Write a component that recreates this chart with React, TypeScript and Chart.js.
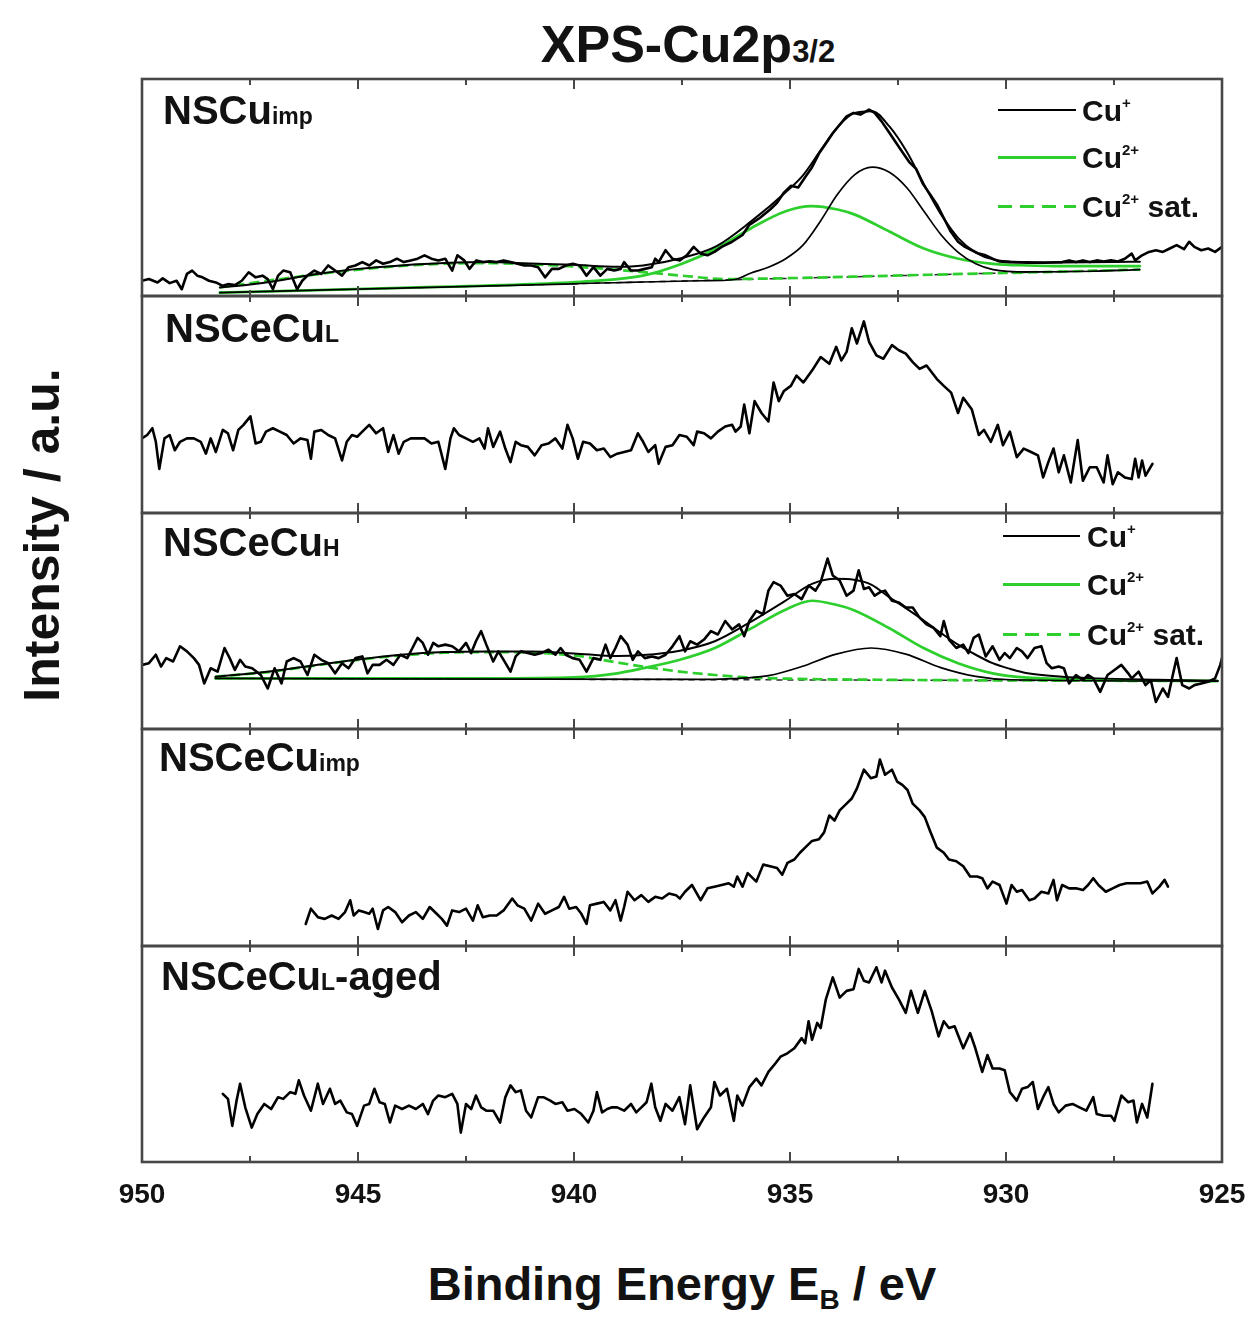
import React, { useEffect, useRef } from 'react';
import { Chart, registerables } from 'chart.js';

Chart.register(...registerables);

type Pt = [number, number];

// ---------- axis values ----------
const xMin = 925;
const xMax = 950;
const xStep = 5;
const tickMarks = [947.5, 945, 942.5, 940, 937.5, 935, 932.5, 930, 927.5];
const yMax = 640; // arbitrary intensity units per panel

// ---------- NSCu imp ----------
const nsCuImpSpectrum: Pt[] = [
  [950.0, 45], [949.84, 50], [949.64, 40], [949.52, 52], [949.36, 38], [949.2, 45], [949.08, 20], [948.96, 65], [948.84, 75], [948.72, 60],
  [948.6, 55], [948.45, 45], [948.29, 40], [948.13, 30], [948.01, 35], [947.85, 32], [947.69, 45], [947.53, 70], [947.37, 55], [947.21, 60],
  [947.09, 50], [946.97, 20], [946.85, 60], [946.73, 75], [946.57, 70], [946.41, 20], [946.29, 45], [946.17, 60], [946.01, 75], [945.85, 65],
  [945.69, 90], [945.53, 75], [945.37, 60], [945.22, 85], [945.06, 90], [944.9, 100], [944.74, 90], [944.58, 105], [944.42, 95], [944.26, 100],
  [944.1, 110], [943.94, 100], [943.78, 105], [943.62, 110], [943.46, 120], [943.3, 110], [943.14, 105], [942.98, 110], [942.82, 75], [942.7, 120],
  [942.54, 105], [942.42, 80], [942.26, 105], [942.11, 100], [941.95, 102], [941.79, 100], [941.63, 105], [941.47, 100], [941.31, 95], [941.15, 90],
  [940.99, 90], [940.83, 85], [940.67, 55], [940.51, 80], [940.35, 80], [940.19, 90], [940.03, 95], [939.87, 90], [939.71, 60], [939.55, 85],
  [939.39, 60], [939.23, 80], [939.07, 75], [938.92, 80], [938.84, 100], [938.68, 75], [938.52, 75], [938.36, 80], [938.2, 85], [938.12, 110],
  [938.04, 100], [937.88, 135], [937.72, 110], [937.55, 105], [937.39, 120], [937.23, 145], [937.07, 125], [936.91, 120], [936.75, 130], [936.58, 145],
  [936.34, 160], [936.1, 180], [935.94, 210], [935.7, 230], [935.46, 255], [935.3, 275], [935.14, 305], [934.98, 325], [934.81, 320], [934.65, 350],
  [934.49, 380], [934.33, 420], [934.17, 450], [934.01, 480], [933.85, 505], [933.69, 530], [933.53, 540], [933.37, 535], [933.17, 550], [933.04, 540],
  [932.88, 515], [932.72, 485], [932.56, 455], [932.4, 425], [932.24, 395], [932.08, 375], [931.92, 330], [931.76, 300], [931.6, 270], [931.44, 230],
  [931.28, 190], [931.11, 160], [930.95, 145], [930.79, 135], [930.63, 125], [930.47, 120], [930.31, 110], [930.15, 102], [929.91, 100], [929.5, 98],
  [929.1, 98], [928.7, 100], [928.54, 105], [928.38, 100], [928.22, 105], [928.06, 100], [927.9, 105], [927.74, 102], [927.57, 105], [927.41, 102],
  [927.25, 110], [927.09, 125], [927.01, 105], [926.85, 120], [926.69, 130], [926.53, 135], [926.37, 130], [926.21, 140], [926.05, 150], [925.88, 138],
  [925.76, 160], [925.64, 145], [925.48, 135], [925.32, 140], [925.16, 130], [925.0, 145],
];
const nsCuImpEnvelope: Pt[] = [
  [948.2, 25], [947.5, 34], [947, 42], [946, 64], [945, 80], [944, 90], [943, 97], [942, 100], [941, 96], [940, 92], [939, 86], [938.4, 90],
  [937.5, 112], [936.7, 147], [935.9, 220], [935.1, 306], [934.7, 356], [934.3, 428], [933.9, 498], [933.5, 540], [933.1, 545], [932.7, 500],
  [932.3, 426], [931.9, 330], [931.5, 240], [931.1, 170], [930.7, 128], [930.3, 108], [929.5, 100], [928.7, 99], [927.5, 100], [926.9, 101],
];
const nsCuImpCuI: Pt[] = [
  [948.2, 10], [940, 36], [937, 45], [936.3, 48], [935.9, 68], [935.5, 85], [935.1, 110], [934.7, 150], [934.3, 220], [933.9, 300], [933.5, 358],
  [933.1, 380], [932.7, 365], [932.3, 320], [931.9, 250], [931.5, 180], [931.1, 128], [930.7, 95], [930.3, 78], [929.5, 71], [928, 73], [926.9, 78],
];
const nsCuImpCuII: Pt[] = [
  [948.2, 10], [944, 24], [941, 35], [939.6, 44], [938.4, 60], [937.5, 95], [936.7, 140], [935.9, 200], [935.1, 250], [934.5, 265], [933.9, 255],
  [933.5, 240], [932.7, 190], [931.9, 140], [931.1, 110], [930.3, 95], [929.5, 90], [928.7, 88], [926.9, 88],
];
const nsCuImpSat: Pt[] = [
  [948.2, 25], [946.8, 50], [945.2, 75], [943.6, 92], [942, 97], [940.4, 90], [938.8, 75], [937.5, 60], [936.5, 50], [935.5, 51.5], [934, 55.5],
  [932, 62], [930, 68], [926.9, 78],
];
const nsCuImpBackground: Pt[] = [[948.2, 10], [926.9, 78]];

// ---------- NSCeCu L ----------
const nsCeCuLSpectrum: Pt[] = [
  [950.0, 220], [949.88, 230], [949.76, 250], [949.68, 210], [949.6, 130], [949.48, 220], [949.36, 230], [949.24, 185], [949.12, 210], [948.96, 220],
  [948.8, 220], [948.64, 210], [948.52, 175], [948.41, 220], [948.29, 180], [948.13, 245], [948.01, 235], [947.89, 185], [947.77, 245], [947.65, 260],
  [947.49, 285], [947.37, 205], [947.25, 210], [947.13, 240], [946.97, 250], [946.81, 240], [946.65, 230], [946.49, 205], [946.33, 220], [946.17, 215],
  [946.09, 160], [946.01, 240], [945.85, 245], [945.69, 230], [945.53, 220], [945.37, 155], [945.26, 210], [945.14, 230], [945.02, 225], [944.9, 240],
  [944.74, 260], [944.58, 235], [944.42, 250], [944.3, 180], [944.18, 230], [944.06, 175], [943.94, 210], [943.78, 220], [943.62, 220], [943.46, 220],
  [943.3, 205], [943.14, 210], [942.98, 130], [942.86, 220], [942.78, 250], [942.66, 230], [942.5, 220], [942.34, 210], [942.19, 220], [942.07, 190],
  [941.99, 250], [941.87, 195], [941.71, 240], [941.59, 190], [941.47, 150], [941.35, 210], [941.23, 200], [941.07, 195], [940.91, 170], [940.75, 200],
  [940.59, 205], [940.43, 220], [940.27, 190], [940.15, 260], [940.03, 220], [939.91, 160], [939.79, 210], [939.63, 205], [939.47, 185], [939.31, 190],
  [939.16, 165], [939.0, 175], [938.84, 180], [938.68, 185], [938.52, 235], [938.4, 210], [938.28, 180], [938.12, 200], [938.04, 145], [937.88, 195],
  [937.72, 200], [937.56, 230], [937.39, 225], [937.23, 200], [937.15, 240], [936.99, 235], [936.83, 220], [936.67, 240], [936.5, 255], [936.34, 260],
  [936.26, 240], [936.14, 255], [936.06, 320], [935.94, 235], [935.82, 330], [935.66, 295], [935.5, 270], [935.38, 385], [935.26, 330], [935.14, 360],
  [934.98, 375], [934.85, 405], [934.69, 385], [934.49, 420], [934.29, 460], [934.09, 440], [933.93, 490], [933.81, 450], [933.69, 475], [933.57, 545],
  [933.45, 500], [933.29, 565], [933.17, 505], [933.0, 465], [932.84, 455], [932.64, 495], [932.48, 480], [932.32, 470], [932.16, 445], [932.0, 425],
  [931.84, 435], [931.6, 395], [931.44, 375], [931.27, 355], [931.11, 295], [930.99, 340], [930.79, 305], [930.63, 230], [930.51, 245], [930.35, 210],
  [930.19, 260], [930.07, 200], [929.91, 240], [929.75, 165], [929.59, 190], [929.42, 180], [929.26, 170], [929.14, 105], [929.02, 150], [928.9, 190],
  [928.78, 120], [928.66, 170], [928.5, 90], [928.34, 215], [928.22, 95], [928.06, 135], [927.9, 135], [927.74, 90], [927.65, 170], [927.53, 85],
  [927.41, 120], [927.25, 105], [927.09, 100], [927.01, 160], [926.93, 105], [926.85, 155], [926.77, 110], [926.61, 145],
];

// ---------- NSCeCu H ----------
const nsCeCuHSpectrum: Pt[] = [
  [950.0, 190], [949.84, 195], [949.68, 220], [949.56, 185], [949.44, 210], [949.28, 200], [949.12, 245], [948.96, 230], [948.8, 210], [948.68, 190],
  [948.56, 135], [948.41, 180], [948.25, 170], [948.09, 240], [947.97, 210], [947.85, 175], [947.73, 205], [947.61, 185], [947.45, 180], [947.25, 160],
  [947.09, 120], [946.93, 180], [946.77, 135], [946.65, 200], [946.49, 210], [946.33, 200], [946.17, 160], [946.01, 220], [945.85, 205], [945.69, 195],
  [945.53, 165], [945.37, 195], [945.22, 180], [945.06, 210], [944.9, 215], [944.78, 165], [944.66, 190], [944.5, 190], [944.34, 205], [944.18, 190],
  [944.02, 220], [943.86, 210], [943.74, 240], [943.62, 270], [943.5, 255], [943.38, 220], [943.26, 255], [943.14, 245], [942.98, 250], [942.82, 245],
  [942.66, 230], [942.5, 255], [942.38, 225], [942.27, 260], [942.15, 290], [942.03, 250], [941.87, 200], [941.75, 230], [941.63, 205], [941.47, 170],
  [941.35, 215], [941.23, 230], [941.07, 225], [940.91, 220], [940.75, 225], [940.59, 235], [940.43, 220], [940.31, 240], [940.19, 220], [940.03, 210],
  [939.87, 205], [939.71, 170], [939.55, 210], [939.39, 205], [939.27, 250], [939.16, 210], [939.04, 240], [938.92, 275], [938.76, 250], [938.64, 205],
  [938.52, 230], [938.36, 210], [938.2, 215], [938.04, 210], [937.88, 220], [937.72, 245], [937.56, 275], [937.43, 230], [937.31, 260], [937.15, 250],
  [936.99, 265], [936.83, 290], [936.67, 280], [936.5, 320], [936.34, 295], [936.18, 310], [936.06, 275], [935.94, 320], [935.78, 350], [935.62, 340],
  [935.5, 410], [935.38, 435], [935.22, 425], [935.06, 395], [934.9, 400], [934.73, 385], [934.57, 425], [934.41, 410], [934.29, 435], [934.13, 505],
  [934.01, 455], [933.85, 440], [933.69, 395], [933.53, 410], [933.41, 470], [933.29, 415], [933.17, 420], [933.04, 395], [932.92, 405], [932.8, 410],
  [932.64, 380], [932.48, 375], [932.32, 360], [932.16, 360], [932.0, 330], [931.84, 310], [931.68, 300], [931.52, 275], [931.44, 320], [931.32, 265],
  [931.15, 240], [930.99, 250], [930.87, 225], [930.75, 270], [930.63, 280], [930.47, 215], [930.31, 245], [930.15, 205], [930.03, 225], [929.91, 210],
  [929.75, 240], [929.63, 230], [929.5, 210], [929.34, 240], [929.18, 245], [929.06, 195], [928.94, 180], [928.78, 185], [928.66, 180], [928.54, 135],
  [928.38, 160], [928.22, 145], [928.1, 160], [927.98, 150], [927.82, 110], [927.65, 160], [927.49, 175], [927.33, 190], [927.17, 165], [927.09, 150],
  [926.93, 170], [926.77, 130], [926.65, 145], [926.53, 80], [926.37, 120], [926.25, 95], [926.13, 165], [926.05, 210], [925.92, 130], [925.76, 120],
  [925.64, 130], [925.48, 135], [925.32, 140], [925.16, 150], [925.04, 190], [925.0, 210],
];
const nsCeCuHEnvelope: Pt[] = [
  [948.3, 155], [947, 171], [946, 189], [945, 206], [944, 220], [943, 228], [942, 230], [941, 230], [940, 224], [939, 216], [938.4, 219],
  [937.55, 232], [936.74, 260], [935.94, 315], [935.13, 378], [934.49, 430], [933.93, 445], [933.52, 442], [933.12, 428], [932.72, 392],
  [932.32, 358], [931.91, 322], [931.51, 285], [931.11, 250], [930.7, 220], [930.31, 195], [929.9, 178], [929.5, 165], [928.7, 155], [927.9, 150],
  [926.5, 146], [925.1, 143],
];
const nsCeCuHCuI: Pt[] = [
  [948.3, 150], [937, 147], [936.3, 149], [935.5, 158], [934.73, 185], [933.93, 222], [933.12, 240], [932.32, 222], [931.51, 182], [930.7, 156],
  [929.9, 146], [925.1, 142],
];
const nsCeCuHCuII: Pt[] = [
  [948.3, 150], [942, 150], [940, 153], [939, 165], [938.4, 180], [937.55, 205], [936.74, 240], [935.94, 295], [935.13, 352], [934.49, 380],
  [933.93, 368], [933.52, 352], [932.72, 300], [931.91, 240], [931.11, 195], [930.31, 165], [929.5, 152], [928, 146], [925.1, 142],
];
const nsCeCuHSat: Pt[] = [
  [948.3, 155], [947, 170], [946, 188], [945, 205], [944, 218], [943, 226], [942, 228], [941, 226], [940, 218], [939, 197], [938.4, 185],
  [937.55, 170], [936.74, 160], [936, 153], [935, 149], [933, 146], [930, 144], [925.1, 142],
];
const nsCeCuHBackground: Pt[] = [[948.3, 150], [925.1, 142]];

// ---------- NSCeCu imp ----------
const nsCeCuImpSpectrum: Pt[] = [
  [946.21, 65], [946.09, 110], [945.93, 85], [945.77, 80], [945.61, 90], [945.45, 80], [945.3, 100], [945.18, 135], [945.1, 90], [944.98, 105],
  [944.86, 100], [944.74, 95], [944.66, 110], [944.54, 50], [944.42, 105], [944.3, 115], [944.14, 100], [943.98, 70], [943.82, 90], [943.66, 100],
  [943.5, 80], [943.34, 115], [943.18, 95], [943.06, 80], [942.94, 60], [942.82, 105], [942.66, 100], [942.5, 110], [942.34, 75], [942.23, 120],
  [942.11, 85], [941.95, 90], [941.79, 90], [941.63, 105], [941.43, 140], [941.31, 120], [941.15, 110], [940.99, 75], [940.83, 125], [940.67, 95],
  [940.51, 105], [940.35, 115], [940.23, 145], [940.11, 110], [939.95, 115], [939.83, 95], [939.71, 65], [939.63, 120], [939.47, 125], [939.31, 130],
  [939.16, 105], [939.04, 135], [938.92, 75], [938.84, 115], [938.76, 160], [938.6, 135], [938.44, 150], [938.28, 130], [938.12, 145], [937.96, 140],
  [937.8, 155], [937.64, 150], [937.55, 140], [937.43, 160], [937.27, 180], [937.07, 135], [936.91, 170], [936.75, 175], [936.58, 180], [936.42, 185],
  [936.3, 175], [936.22, 205], [936.1, 175], [935.98, 215], [935.78, 190], [935.62, 240], [935.46, 235], [935.3, 230], [935.18, 210], [935.06, 245],
  [934.9, 255], [934.77, 275], [934.65, 290], [934.49, 310], [934.33, 315], [934.21, 335], [934.09, 385], [933.97, 370], [933.85, 400], [933.69, 420],
  [933.57, 435], [933.45, 465], [933.29, 520], [933.13, 495], [933.0, 500], [932.92, 550], [932.8, 505], [932.64, 520], [932.52, 485], [932.4, 475],
  [932.28, 460], [932.16, 420], [932.0, 400], [931.88, 380], [931.76, 340], [931.6, 290], [931.44, 275], [931.32, 255], [931.15, 250], [930.99, 235],
  [930.83, 205], [930.67, 205], [930.55, 200], [930.43, 170], [930.31, 190], [930.15, 180], [929.99, 125], [929.87, 180], [929.75, 160], [929.63, 165],
  [929.46, 135], [929.34, 140], [929.18, 160], [929.02, 155], [928.9, 195], [928.82, 135], [928.7, 180], [928.54, 170], [928.38, 170], [928.22, 165],
  [928.1, 180], [927.98, 200], [927.86, 180], [927.69, 160], [927.53, 170], [927.37, 180], [927.21, 185], [927.05, 185], [926.89, 185], [926.73, 190],
  [926.61, 155], [926.45, 175], [926.33, 195], [926.25, 175],
];

// ---------- NSCeCu L-aged ----------
const nsCeCuLAgedSpectrum: Pt[] = [
  [948.13, 202], [948.01, 187], [947.91, 107], [947.81, 182], [947.73, 232], [947.61, 162], [947.46, 102], [947.33, 142], [947.17, 172], [947.01, 157],
  [946.85, 192], [946.73, 187], [946.57, 207], [946.45, 202], [946.37, 242], [946.25, 197], [946.09, 152], [945.93, 232], [945.81, 172], [945.65, 217],
  [945.53, 172], [945.41, 182], [945.26, 147], [945.14, 142], [945.02, 107], [944.86, 167], [944.74, 172], [944.62, 217], [944.5, 177], [944.38, 172],
  [944.26, 117], [944.14, 167], [943.98, 157], [943.82, 167], [943.66, 157], [943.5, 172], [943.38, 142], [943.26, 182], [943.14, 197], [942.98, 192],
  [942.82, 202], [942.7, 172], [942.62, 87], [942.5, 172], [942.38, 157], [942.27, 197], [942.15, 162], [942.03, 152], [941.87, 152], [941.71, 117],
  [941.59, 192], [941.47, 227], [941.35, 207], [941.23, 212], [941.11, 152], [940.99, 132], [940.83, 192], [940.71, 192], [940.55, 182], [940.43, 172],
  [940.27, 177], [940.15, 152], [939.99, 157], [939.83, 142], [939.67, 117], [939.55, 152], [939.47, 207], [939.35, 147], [939.23, 157], [939.12, 162],
  [939.0, 162], [938.84, 152], [938.68, 172], [938.56, 147], [938.44, 162], [938.32, 177], [938.21, 232], [938.12, 162], [938.0, 122], [937.88, 172],
  [937.72, 152], [937.56, 192], [937.43, 112], [937.31, 227], [937.15, 97], [936.99, 132], [936.83, 162], [936.75, 237], [936.62, 197], [936.46, 217],
  [936.3, 122], [936.22, 197], [936.1, 167], [935.94, 222], [935.78, 247], [935.66, 227], [935.5, 267], [935.34, 292], [935.22, 312], [935.06, 322],
  [934.9, 337], [934.73, 367], [934.65, 352], [934.57, 417], [934.49, 362], [934.37, 412], [934.29, 397], [934.17, 482], [934.01, 547], [933.85, 487],
  [933.69, 507], [933.53, 512], [933.41, 572], [933.29, 537], [933.17, 532], [933.0, 577], [932.88, 532], [932.8, 567], [932.64, 517], [932.48, 482],
  [932.32, 442], [932.2, 507], [932.04, 442], [931.88, 507], [931.72, 447], [931.56, 372], [931.44, 417], [931.32, 397], [931.19, 402], [930.99, 337],
  [930.83, 382], [930.71, 337], [930.55, 267], [930.43, 317], [930.31, 277], [930.15, 277], [930.03, 272], [929.91, 207], [929.75, 182], [929.63, 217],
  [929.5, 222], [929.38, 237], [929.26, 157], [929.14, 192], [929.02, 222], [928.9, 172], [928.78, 147], [928.62, 167], [928.46, 172], [928.3, 162],
  [928.14, 152], [927.98, 192], [927.9, 142], [927.74, 137], [927.57, 137], [927.49, 122], [927.33, 197], [927.17, 177], [927.05, 182], [926.97, 117],
  [926.85, 172], [926.73, 132], [926.61, 232],
];

// ---------- styling / layout ----------
const FONT = "'Liberation Sans', Arial, Helvetica, sans-serif";
const GREEN = '#2ccf2c';
const FRAME = '#474747';
const INK = '#121212';
const PLOT_LEFT = 142;
const PLOT_RIGHT = 1222;
const PAD_X = 40;
const PAD_Y = 4;
const AXIS_H = 60;
const panelEdges = [79, 296, 513, 729, 946, 1162];

type Style = { color: string; width: number; smooth: boolean; dash?: number[] };
const spectrumStyle: Style = { color: '#000', width: 2.6, smooth: false };
const envelopeStyle: Style = { color: '#000', width: 2, smooth: true };
const cuIStyle: Style = { color: '#000', width: 1.7, smooth: true };
const cuIIStyle: Style = { color: GREEN, width: 2.7, smooth: true };
const satStyle: Style = { color: GREEN, width: 2.7, smooth: true, dash: [10, 5] };
const bgStyle: Style = { color: '#2a2a2a', width: 1.5, smooth: false, dash: [6, 5] };

function ds(pts: Pt[], s: Style) {
  return {
    data: pts.map(([x, y]) => ({ x, y })),
    borderColor: s.color,
    borderWidth: s.width,
    borderDash: s.dash || [],
    borderJoinStyle: 'round',
    borderCapStyle: s.dash ? 'butt' : 'round',
    pointRadius: 0,
    pointHoverRadius: 0,
    fill: false,
    tension: s.smooth ? 0.4 : 0,
    cubicInterpolationMode: s.smooth ? 'monotone' : 'default',
  };
}

const panelSeries = [
  [ds(nsCuImpSpectrum, spectrumStyle), ds(nsCuImpEnvelope, envelopeStyle), ds(nsCuImpCuI, cuIStyle), ds(nsCuImpCuII, cuIIStyle), ds(nsCuImpSat, satStyle), ds(nsCuImpBackground, bgStyle)],
  [ds(nsCeCuLSpectrum, spectrumStyle)],
  [ds(nsCeCuHSpectrum, spectrumStyle), ds(nsCeCuHEnvelope, envelopeStyle), ds(nsCeCuHCuI, cuIStyle), ds(nsCeCuHCuII, cuIIStyle), ds(nsCeCuHSat, satStyle), ds(nsCeCuHBackground, bgStyle)],
  [ds(nsCeCuImpSpectrum, spectrumStyle)],
  [ds(nsCeCuLAgedSpectrum, spectrumStyle)],
];

const framePlugin = {
  id: 'panelFrame',
  afterDatasetsDraw(chart: any) {
    const { ctx, chartArea: a } = chart;
    const x = chart.scales.x;
    ctx.save();
    ctx.strokeStyle = FRAME;
    ctx.lineWidth = 2;
    ctx.beginPath();
    for (const v of tickMarks) {
      const px = x.getPixelForValue(v);
      const len = v % 5 === 0 ? 10 : 6;
      ctx.moveTo(px, a.bottom);
      ctx.lineTo(px, a.bottom - len);
      ctx.moveTo(px, a.top);
      ctx.lineTo(px, a.top + len);
    }
    ctx.stroke();
    ctx.lineWidth = 2.6;
    ctx.strokeRect(a.left, a.top, a.right - a.left, a.bottom - a.top);
    ctx.restore();
  },
};

function Panel({ index }: { index: number }) {
  const ref = useRef<HTMLCanvasElement>(null);
  const top = panelEdges[index];
  const h = panelEdges[index + 1] - top;
  const isBottom = index === panelEdges.length - 2;
  const width = PLOT_RIGHT - PLOT_LEFT + 2 * PAD_X;
  const height = h + PAD_Y + (isBottom ? AXIS_H : PAD_Y);

  useEffect(() => {
    const xScale: any = {
      type: 'linear',
      reverse: true,
      min: xMin,
      max: xMax,
      display: isBottom,
      grid: { display: false, drawTicks: false },
      border: { display: false },
      ticks: {
        stepSize: xStep,
        autoSkip: false,
        maxRotation: 0,
        padding: 16,
        color: INK,
        font: { family: FONT, size: 28, weight: 'bold' },
      },
    };
    if (isBottom) {
      xScale.afterFit = (s: any) => {
        s.height = AXIS_H;
      };
    }
    const chart = new Chart(ref.current as HTMLCanvasElement, {
      type: 'line',
      data: { datasets: panelSeries[index] as any },
      options: {
        responsive: false,
        maintainAspectRatio: false,
        animation: false,
        events: [],
        layout: { padding: { left: PAD_X, right: PAD_X, top: PAD_Y, bottom: isBottom ? 0 : PAD_Y } },
        plugins: { legend: { display: false }, tooltip: { enabled: false }, title: { display: false } },
        scales: {
          x: xScale,
          y: { display: false, min: 0, max: yMax },
        },
      } as any,
      plugins: [framePlugin],
    });
    return () => chart.destroy();
  }, [index]);

  return (
    <canvas
      ref={ref}
      width={width}
      height={height}
      style={{ position: 'absolute', left: PLOT_LEFT - PAD_X, top: top - PAD_Y, width, height }}
    />
  );
}

function Text({ left, baseline, size, center, children }: any) {
  return (
    <div
      style={{
        position: 'absolute',
        left,
        top: baseline - 0.8465 * size,
        fontSize: size,
        lineHeight: 1,
        whiteSpace: 'nowrap',
        transform: center ? 'translateX(-50%)' : undefined,
      }}
    >
      {children}
    </div>
  );
}

const panelLabels = [
  { left: 163, baseline: 124, main: 'NSCu', sub: 'imp', tail: '' },
  { left: 165, baseline: 342, main: 'NSCeCu', sub: 'L', tail: '' },
  { left: 163, baseline: 556, main: 'NSCeCu', sub: 'H', tail: '' },
  { left: 159, baseline: 771, main: 'NSCeCu', sub: 'imp', tail: '' },
  { left: 161, baseline: 990, main: 'NSCeCu', sub: 'L', tail: '-aged' },
];

const legendRows = [
  { sup: '+', after: '', kind: 'black' },
  { sup: '2+', after: '', kind: 'green' },
  { sup: '2+', after: ' sat.', kind: 'dash' },
];
const legends = [
  { lineLeft: 998, lineRight: 1076, textLeft: 1082, rows: [110, 157, 206] },
  { lineLeft: 1003, lineRight: 1080, textLeft: 1087, rows: [536, 584, 634] },
];

function Legend({ cfg }: { cfg: (typeof legends)[number] }) {
  return (
    <>
      {legendRows.map((r, i) => {
        const y = cfg.rows[i];
        const thick = r.kind === 'black' ? 2.5 : 3;
        const bg =
          r.kind === 'black'
            ? '#000'
            : r.kind === 'green'
            ? GREEN
            : `repeating-linear-gradient(to right, ${GREEN} 0px, ${GREEN} 14px, transparent 14px, transparent 22px)`;
        return (
          <React.Fragment key={i}>
            <div
              style={{
                position: 'absolute',
                left: cfg.lineLeft,
                top: y - thick / 2,
                width: cfg.lineRight - cfg.lineLeft,
                height: thick,
                background: bg,
              }}
            />
            <Text left={cfg.textLeft} baseline={y + 11} size={30}>
              Cu
              <span style={{ fontSize: 15, position: 'relative', top: -13 }}>{r.sup}</span>
              {r.after}
            </Text>
          </React.Fragment>
        );
      })}
    </>
  );
}

export default function App() {
  return (
    <div
      style={{
        position: 'absolute',
        left: 0,
        top: 0,
        width: 1253,
        height: 1319,
        background: '#fff',
        overflow: 'hidden',
        fontFamily: FONT,
        fontWeight: 'bold',
        color: INK,
      }}
    >
      {panelSeries.map((_, i) => (
        <Panel key={i} index={i} />
      ))}

      <Text left={688} baseline={62} size={52} center>
        XPS-Cu2p<span style={{ fontSize: 31 }}>3/2</span>
      </Text>

      <div
        style={{
          position: 'absolute',
          left: 42,
          top: 535,
          fontSize: 50,
          lineHeight: 1,
          whiteSpace: 'nowrap',
          transform: 'translate(-50%, -50%) rotate(-90deg)',
        }}
      >
        Intensity / a.u.
      </div>

      <Text left={682} baseline={1300} size={47} center>
        Binding Energy E<span style={{ fontSize: 28, position: 'relative', top: 9 }}>B</span> / eV
      </Text>

      {panelLabels.map((p, i) => (
        <Text key={i} left={p.left} baseline={p.baseline} size={40}>
          {p.main}
          <span style={{ fontSize: 23 }}>{p.sub}</span>
          {p.tail}
        </Text>
      ))}

      {legends.map((l, i) => (
        <Legend key={i} cfg={l} />
      ))}
    </div>
  );
}
